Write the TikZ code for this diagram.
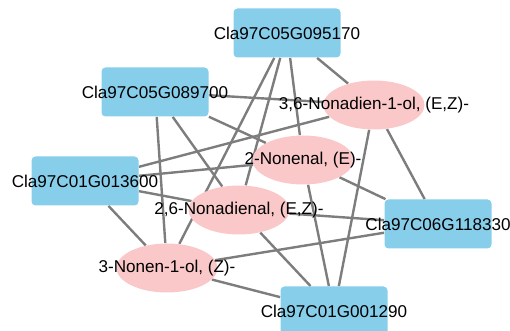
\documentclass[tikz,border=0pt]{standalone}
\usepackage{fontspec}
\setmainfont{Liberation Sans}
\usepackage{xcolor}
\usepackage{tikz}
\usetikzlibrary{shapes.geometric,backgrounds}

\definecolor{geneblue}{RGB}{135,206,235}
\definecolor{cpdpink}{RGB}{250,200,200}
\definecolor{edgegray}{RGB}{125,125,125}

\begin{document}
\begin{tikzpicture}[x=0.5pt, y=-0.5pt,
	every label/.style={inner sep=0pt, font=\fontsize{8.55}{10}\selectfont},
	gene/.style={rectangle, rounded corners=2pt, fill=geneblue, inner sep=0pt,
		minimum width=53.5pt, minimum height=24.5pt},
	cpd/.style={ellipse, fill=cpdpink, inner sep=0pt,
		minimum width=50.5pt, minimum height=24.5pt},
	link/.style={edgegray, line width=1.2pt}]
	\useasboundingbox (0,0) rectangle (510,331);
	\clip (0,0) rectangle (510,331);

	% genes
	\node[gene, label={center:Cla97C05G095170}] (g095170) at (287,33) {};
	\node[gene, label={center:Cla97C05G089700}] (g089700) at (155,92) {};
	\node[gene, label={center:Cla97C01G013600}] (g013600) at (85,181) {};
	\node[gene, label={center:Cla97C06G118330}] (g118330) at (438,224) {};
	\node[gene, label={center:Cla97C01G001290}] (g001290) at (334,311) {};

	% volatiles
	\node[cpd, label={center:3,6-Nonadien-1-ol, (E,Z)-}] (nonadienol) at (374,105) {};
	\node[cpd, label={center:2-Nonenal, (E)-}] (nonenal) at (303,160) {};
	\node[cpd, label={center:2,6-Nonadienal, (E,Z)-}] (nonadienal) at (239,210) {};
	\node[cpd, label={center:3-Nonen-1-ol, (Z)-}] (nonenol) at (167,268) {};

	\begin{scope}[on background layer]
		\foreach \g in {g095170,g089700,g013600,g118330,g001290}
			\foreach \c in {nonadienol,nonenal,nonadienal,nonenol}
				\draw[link] (\g) -- (\c);
	\end{scope}
\end{tikzpicture}
\end{document}
